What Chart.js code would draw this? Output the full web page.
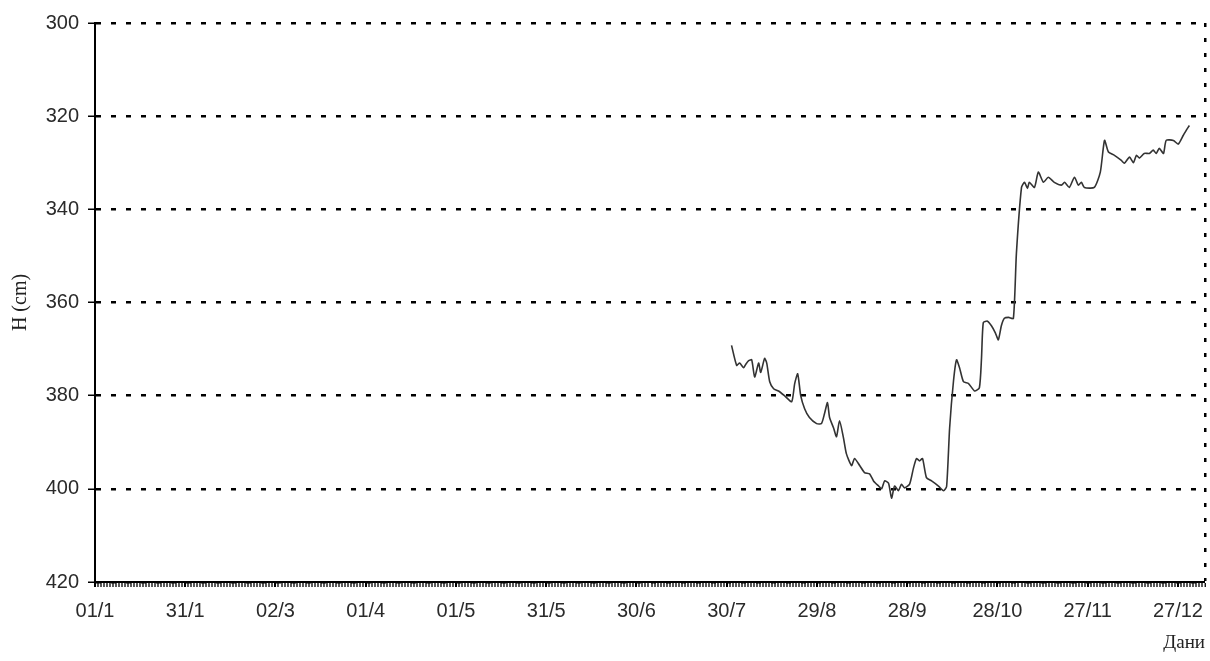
<!DOCTYPE html>
<html>
<head>
<meta charset="utf-8">
<script src="https://cdn.jsdelivr.net/npm/chart.js@4/dist/chart.umd.min.js"></script>
<style>
  html, body { margin: 0; padding: 0; background: #fff; }
</style>
</head>
<body>
<canvas id="myChart" width="1210" height="661"></canvas>
<script>
"use strict";
// day of year for each reading
const days = [
  212.6, 214.3, 215.3, 216.6, 217.3, 218.3, 219.3, 220.3, 221.6, 222.3,
  223.6, 224.3, 225.3, 226.6, 228.2, 230.2, 232.6, 233.6, 234.6, 235.6,
  236.9, 238.5, 240.9, 242.5, 243.5, 244.5, 245.2, 246.5, 247.5, 248.5,
  249.8, 250.8, 252.5, 253.5, 255.2, 256.8, 258.5, 259.8, 261.5, 262.5,
  263.5, 264.8, 265.8, 266.8, 268.1, 269.1, 270.1, 271.8, 273.1, 274.1,
  275.1, 276.1, 277.4, 279.1, 281.4, 283.1, 284.1, 285.1, 286.4, 287.4,
  288.4, 289.7, 291.4, 293.4, 295, 295.7, 296.3, 297.7, 299, 300.3,
  301.3, 302.3, 303.3, 304.7, 306.3, 307.3, 309, 310, 311, 311.6,
  313.3, 314.6, 316.3, 317.9, 319.9, 322.3, 323.3, 324.9, 326.6, 327.9,
  328.9, 329.9, 333.2, 335.2, 336.6, 337.9, 339.9, 342.2, 343.2, 344.9,
  346.2, 347.2, 348.2, 349.8, 351.5, 352.8, 353.8, 354.8, 356.2, 357.1,
  359.5, 361.1, 362.8, 363.8, 364.8,
];
// water level H (cm)
const levels = [
  369.2, 373.5, 373, 374, 373.3, 372.5, 372.3, 376, 373, 375,
  372, 373, 377, 378.5, 379, 380, 381.3, 377.4, 375.3, 380,
  382.8, 384.7, 386, 386, 383.9, 381.5, 384.7, 386.9, 388.8, 385.4,
  389, 392.5, 395, 393.5, 395, 396.5, 396.8, 398.3, 399.4, 400,
  398.3, 398.8, 402, 399.4, 400.4, 399, 399.8, 399, 395.5, 393.5,
  394, 393.5, 397.6, 398.3, 399.4, 400.4, 399.5, 387, 376.8, 372.3,
  374, 377, 377.4, 379, 378.3, 372, 364.3, 364, 365, 366.5,
  368, 365, 363.4, 363.2, 363.4, 349.5, 335.3, 334.2, 335.5, 334.2,
  335.3, 332, 334.2, 333.1, 334.2, 334.8, 334.2, 335.3, 333.1, 334.8,
  334.2, 335.3, 335.3, 332, 325.2, 327.7, 328.4, 329.5, 330.1, 328.8,
  330, 328.4, 329, 328, 328, 327.3, 328, 326.9, 328, 325.2,
  325.2, 326, 324.1, 323, 322,
];
const majorDays = [1, 31, 61, 91, 121, 151, 181, 211, 241, 271, 301, 331, 361];
const xLabels = ["01/1", "31/1", "02/3", "01/4", "01/5", "31/5", "30/6", "30/7", "29/8", "28/9", "28/10", "27/11", "27/12"];
const yTicks = [300, 320, 340, 360, 380, 400, 420];
const dayMin = 1;
const dayMax = 370;

const allDays = [];
for (let d = dayMin; d <= dayMax; d++) allDays.push(d);

const ctx = document.getElementById("myChart").getContext("2d");
const myChart = new Chart(ctx, {
  type: "line",
  data: {
    datasets: [
      {
        label: "H",
        data: days.map((d, i) => ({ x: d, y: levels[i] })),
        borderColor: "#333333",
        borderWidth: 1.6,
        pointRadius: 0,
        tension: 0.2,
      },
    ],
  },
  options: {
    responsive: false,
    animation: false,
    layout: {
      padding: { top: 23, right: 5, left: 0, bottom: 0 },
    },
    plugins: {
      legend: { display: false },
      tooltip: { enabled: false },
    },
    scales: {
      x: {
        type: "linear",
        min: dayMin,
        max: dayMax,
        afterFit: (axis) => {
          axis.height = 79;
          axis.paddingLeft = 0;
          axis.paddingRight = 0;
        },
        afterBuildTicks: (axis) => {
          axis.ticks = allDays.map((v) => ({ value: v }));
        },
        ticks: {
          autoSkip: false,
          maxRotation: 0,
          padding: 12,
          color: "#2a2a2a",
          font: { family: "Liberation Sans", size: 20 },
          callback: (v) => {
            const k = majorDays.indexOf(v);
            return k >= 0 ? xLabels[k] : "";
          },
        },
        grid: {
          color: "#000",
          lineWidth: (c) => (c.tick && c.tick.value === dayMax ? 2.5 : 0),
          tickColor: "#000",
          tickWidth: (c) => (c.tick && majorDays.includes(c.tick.value) ? 2 : 1.3),
          tickLength: 5,
        },
        border: { display: true, color: "#000", width: 2, dash: [4, 11] },
        title: {
          display: true,
          text: "Дани",
          align: "end",
          color: "#222",
          font: { family: "Liberation Serif", size: 19 },
          padding: { top: 0, bottom: 7 },
        },
      },
      y: {
        reverse: true,
        min: 300,
        max: 420,
        afterFit: (axis) => { axis.width = 95; },
        afterBuildTicks: (axis) => {
          axis.ticks = yTicks.map((v) => ({ value: v }));
        },
        ticks: {
          padding: 9,
          color: "#2a2a2a",
          font: { family: "Liberation Sans", size: 20 },
        },
        grid: {
          color: "#000",
          lineWidth: 2.5,
          tickColor: "#000",
          tickWidth: 1.5,
          tickLength: 7,
        },
        border: { display: true, color: "#000", width: 2, dash: [5, 10] },
        title: {
          display: true,
          text: "H (cm)",
          color: "#222",
          font: { family: "Liberation Serif", size: 20 },
          padding: { top: 9, bottom: 0 },
        },
      },
    },
  },
});
</script>
</body>
</html>
